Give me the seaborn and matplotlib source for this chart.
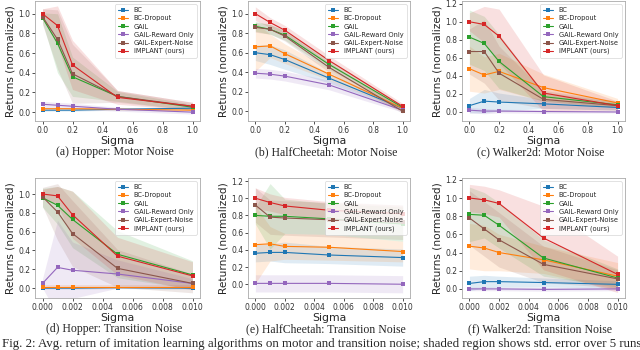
import numpy as np
import pandas as pd
import matplotlib
matplotlib.use("Agg")
import matplotlib.pyplot as plt
import seaborn as sns

sns.set_theme(style="ticks")
plt.rcParams['font.family'] = ['DejaVu Sans']

methods = ["BC", "BC-Dropout", "GAIL", "GAIL-Reward Only", "GAIL-Expert-Noise", "IMPLANT (ours)"]
colors = ["#1f77b4", "#ff7f0e", "#2ca02c", "#9467bd", "#8c564b", "#d62728"]

sigma_motor = [0.0, 0.1, 0.2, 0.5, 1.0]
sigma_trans = [0.0, 0.001, 0.002, 0.005, 0.01]

# (a) Hopper: Motor Noise
hop_motor_mean = {
    "BC": [0.02, 0.02, 0.02, 0.03, 0.04],
    "BC-Dropout": [0.035, 0.035, 0.035, 0.03, 0.02],
    "GAIL": [0.96, 0.70, 0.36, 0.16, 0.05],
    "GAIL-Reward Only": [0.08, 0.07, 0.06, 0.03, 0.0],
    "GAIL-Expert-Noise": [0.97, 0.74, 0.39, 0.16, 0.06],
    "IMPLANT (ours)": [1.0, 0.88, 0.48, 0.15, 0.06],
}
hop_motor_std = {
    "BC": [0.01, 0.01, 0.01, 0.01, 0.01],
    "BC-Dropout": [0.01, 0.01, 0.01, 0.01, 0.01],
    "GAIL": [0.05, 0.30, 0.20, 0.05, 0.03],
    "GAIL-Reward Only": [0.03, 0.03, 0.03, 0.02, 0.02],
    "GAIL-Expert-Noise": [0.08, 0.30, 0.30, 0.06, 0.04],
    "IMPLANT (ours)": [0.05, 0.20, 0.25, 0.07, 0.04],
}

# (b) HalfCheetah: Motor Noise
hc_motor_mean = {
    "BC": [0.60, 0.58, 0.53, 0.34, 0.03],
    "BC-Dropout": [0.66, 0.67, 0.59, 0.38, 0.03],
    "GAIL": [0.87, 0.84, 0.78, 0.48, 0.04],
    "GAIL-Reward Only": [0.39, 0.38, 0.36, 0.27, 0.01],
    "GAIL-Expert-Noise": [0.86, 0.84, 0.77, 0.45, 0.0],
    "IMPLANT (ours)": [1.0, 0.91, 0.83, 0.52, 0.05],
}
hc_motor_std = {
    "BC": [0.08, 0.10, 0.10, 0.05, 0.02],
    "BC-Dropout": [0.25, 0.12, 0.10, 0.06, 0.02],
    "GAIL": [0.05, 0.05, 0.05, 0.05, 0.02],
    "GAIL-Reward Only": [0.05, 0.05, 0.05, 0.05, 0.02],
    "GAIL-Expert-Noise": [0.05, 0.05, 0.05, 0.05, 0.02],
    "IMPLANT (ours)": [0.07, 0.05, 0.05, 0.05, 0.03],
}

# (c) Walker2d: Motor Noise
wk_motor_mean = {
    "BC": [0.07, 0.12, 0.11, 0.09, 0.05],
    "BC-Dropout": [0.48, 0.41, 0.45, 0.27, 0.10],
    "GAIL": [0.83, 0.76, 0.56, 0.17, 0.08],
    "GAIL-Reward Only": [0.02, 0.01, 0.01, 0.005, 0.0],
    "GAIL-Expert-Noise": [0.67, 0.67, 0.43, 0.14, 0.07],
    "IMPLANT (ours)": [1.0, 0.97, 0.84, 0.21, 0.07],
}
wk_motor_std = {
    "BC": [0.08, 0.13, 0.10, 0.05, 0.03],
    "BC-Dropout": [0.25, 0.20, 0.20, 0.15, 0.05],
    "GAIL": [0.30, 0.30, 0.30, 0.05, 0.03],
    "GAIL-Reward Only": [0.03, 0.03, 0.02, 0.02, 0.01],
    "GAIL-Expert-Noise": [0.25, 0.35, 0.30, 0.10, 0.05],
    "IMPLANT (ours)": [0.10, 0.20, 0.30, 0.20, 0.05],
}

# (d) Hopper: Transition Noise
hop_trans_mean = {
    "BC": [0.0, 0.0, 0.0, 0.005, 0.0],
    "BC-Dropout": [0.01, 0.01, 0.01, 0.01, 0.01],
    "GAIL": [0.96, 0.88, 0.73, 0.36, 0.14],
    "GAIL-Reward Only": [0.05, 0.22, 0.19, 0.15, 0.05],
    "GAIL-Expert-Noise": [0.97, 0.81, 0.58, 0.21, 0.05],
    "IMPLANT (ours)": [1.0, 0.98, 0.78, 0.34, 0.13],
}
hop_trans_std = {
    "BC": [0.01, 0.01, 0.01, 0.01, 0.01],
    "BC-Dropout": [0.02, 0.02, 0.02, 0.02, 0.02],
    "GAIL": [0.10, 0.20, 0.30, 0.25, 0.15],
    "GAIL-Reward Only": [0.05, 0.50, 0.30, 0.15, 0.05],
    "GAIL-Expert-Noise": [0.10, 0.30, 0.35, 0.20, 0.10],
    "IMPLANT (ours)": [0.05, 0.10, 0.25, 0.20, 0.15],
}

# (e) HalfCheetah: Transition Noise
hc_trans_mean = {
    "BC": [0.36, 0.37, 0.37, 0.34, 0.31],
    "BC-Dropout": [0.46, 0.47, 0.44, 0.43, 0.38],
    "GAIL": [0.80, 0.79, 0.79, 0.76, 0.70],
    "GAIL-Reward Only": [0.01, 0.01, 0.01, 0.01, 0.0],
    "GAIL-Expert-Noise": [0.92, 0.78, 0.77, 0.75, 0.72],
    "IMPLANT (ours)": [1.0, 0.95, 0.91, 0.86, 0.82],
}
hc_trans_std = {
    "BC": [0.10, 0.10, 0.12, 0.10, 0.10],
    "BC-Dropout": [0.45, 0.20, 0.15, 0.15, 0.12],
    "GAIL": [0.10, 0.38, 0.20, 0.18, 0.20],
    "GAIL-Reward Only": [0.10, 0.10, 0.10, 0.10, 0.10],
    "GAIL-Expert-Noise": [0.20, 0.20, 0.20, 0.20, 0.20],
    "IMPLANT (ours)": [0.12, 0.10, 0.10, 0.10, 0.10],
}

# (f) Walker2d: Transition Noise
wk_trans_mean = {
    "BC": [0.06, 0.08, 0.08, 0.07, 0.05],
    "BC-Dropout": [0.47, 0.45, 0.40, 0.32, 0.14],
    "GAIL": [0.82, 0.81, 0.70, 0.34, 0.12],
    "GAIL-Reward Only": [0.0, 0.0, 0.0, -0.005, 0.0],
    "GAIL-Expert-Noise": [0.78, 0.66, 0.54, 0.27, 0.11],
    "IMPLANT (ours)": [1.0, 0.98, 0.94, 0.56, 0.16],
}
wk_trans_std = {
    "BC": [0.08, 0.07, 0.06, 0.05, 0.04],
    "BC-Dropout": [0.25, 0.25, 0.20, 0.15, 0.15],
    "GAIL": [0.30, 0.25, 0.25, 0.20, 0.10],
    "GAIL-Reward Only": [0.02, 0.02, 0.02, 0.02, 0.02],
    "GAIL-Expert-Noise": [0.30, 0.30, 0.30, 0.20, 0.10],
    "IMPLANT (ours)": [0.15, 0.15, 0.15, 0.35, 0.20],
}

captions = ["(a) Hopper: Motor Noise", "(b) HalfCheetah: Motor Noise", "(c) Walker2d: Motor Noise",
            "(d) Hopper: Transition Noise", "(e) HalfCheetah: Transition Noise", "(f) Walker2d: Transition Noise"]

panels = [
    (sigma_motor, hop_motor_mean, hop_motor_std, (-0.09, 1.13), [0, 0.2, 0.4, 0.6, 0.8, 1.0]),
    (sigma_motor, hc_motor_mean, hc_motor_std, (-0.10, 1.13), [0, 0.2, 0.4, 0.6, 0.8, 1.0]),
    (sigma_motor, wk_motor_mean, wk_motor_std, (-0.10, 1.23), [0, 0.2, 0.4, 0.6, 0.8, 1.0, 1.2]),
    (sigma_trans, hop_trans_mean, hop_trans_std, (-0.105, 1.17), [0, 0.2, 0.4, 0.6, 0.8, 1.0]),
    (sigma_trans, hc_trans_mean, hc_trans_std, (-0.16, 1.235), [0, 0.2, 0.4, 0.6, 0.8, 1.0, 1.2]),
    (sigma_trans, wk_trans_mean, wk_trans_std, (-0.10, 1.22), [0, 0.2, 0.4, 0.6, 0.8, 1.0, 1.2]),
]

W, H = 640, 350
fig = plt.figure(figsize=(6.4, 3.5), dpi=100)
cols_px = [(35, 200), (248, 410), (462, 625)]
rows_px = [(1, 121), (178, 298)]
cap_y = [152, 329]

for i, (xs, means, stds, ylim, yticks) in enumerate(panels):
    r, c = divmod(i, 3)
    l, rr = cols_px[c]
    t, b = rows_px[r]
    ax = fig.add_axes([l / W, 1 - b / H, (rr - l) / W, (b - t) / H])
    rows = []
    for m in methods:
        for x, v in zip(xs, means[m]):
            rows.append({"Sigma": x, "ret": v, "method": m})
    df = pd.DataFrame(rows)
    sns.lineplot(data=df, x="Sigma", y="ret", hue="method", hue_order=methods,
                 palette=colors, marker="s", markersize=2.6, markeredgewidth=0,
                 linewidth=0.8, errorbar=None, ax=ax)
    for m, col in zip(methods, colors):
        mu = np.array(means[m]); sd = np.array(stds[m])
        ax.fill_between(xs, mu - sd, mu + sd, color=col, alpha=0.14, linewidth=0)
    ax.set_ylim(*ylim)
    ax.set_yticks(yticks)
    if r == 0:
        ax.set_xticks([0, 0.2, 0.4, 0.6, 0.8, 1.0])
    else:
        ax.set_xticks([0, 0.002, 0.004, 0.006, 0.008, 0.010])
        ax.set_xticklabels(["0.000", "0.002", "0.004", "0.006", "0.008", "0.010"])
    ax.tick_params(labelsize=5.5, length=2, width=0.6, pad=1.5, colors="#333333")
    for s in ax.spines.values():
        s.set_linewidth(0.6)
        s.set_color("#aaaaaa")
    ax.set_xlabel("Sigma", fontsize=7.8, labelpad=0.5)
    ax.set_ylabel("Returns (normalized)", fontsize=7.6, labelpad=2)
    leg = ax.legend(loc="upper right", fontsize=4.8, handlelength=1.6, labelspacing=0.32,
                    borderpad=0.45, frameon=True, fancybox=True)
    leg.get_frame().set_linewidth(0.5)
    leg.get_frame().set_edgecolor("#cccccc")
    fig.text(((l + rr) / 2 - 3) / W, 1 - cap_y[r] / H, captions[i], ha="center", va="center",
             fontsize=8.5, family="Liberation Serif")

fig.text(2 / W, 1 - 344 / H,
         "Fig. 2: Avg. return of imitation learning algorithms on motor and transition noise; shaded region shows std. error over 5 runs.",
         ha="left", va="center", fontsize=9.3, family="Liberation Serif")

fig.savefig("out.png", dpi=100)
